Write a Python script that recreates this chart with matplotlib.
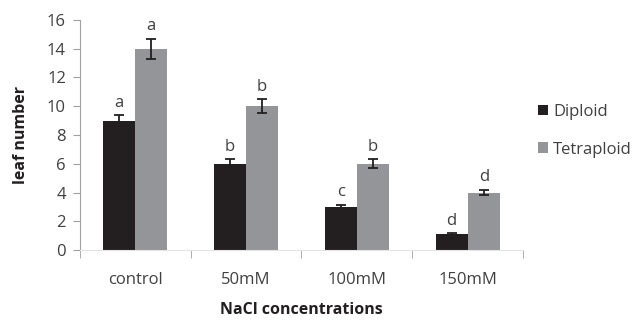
import matplotlib.pyplot as plt
import numpy as np

plt.rcParams['font.family'] = ['Open Sans', 'DejaVu Sans']

# Data
categories = ['control', '50mM', '100mM', '150mM']
diploid = [9.0, 6.0, 3.0, 1.1]
diploid_err = [0.4, 0.3, 0.15, 0.05]
tetraploid = [14.0, 10.0, 6.0, 4.0]
tetraploid_err = [0.7, 0.5, 0.3, 0.2]
diploid_letters = ['a', 'b', 'c', 'd']
tetraploid_letters = ['a', 'b', 'b', 'd']

fig = plt.figure(figsize=(6.34, 3.26), dpi=100)
ax = fig.add_axes([0.126, 0.233, 0.699, 0.706])

x = np.arange(len(categories))
w = 0.29
ax.bar(x - w/2, diploid, w, color='#231f20', label='Diploid',
       yerr=diploid_err, capsize=3.5, error_kw=dict(ecolor='#231f20', elinewidth=1.3, capthick=1.3))
ax.bar(x + w/2, tetraploid, w, color='#939598', label='Tetraploid',
       yerr=tetraploid_err, capsize=3.5, error_kw=dict(ecolor='#231f20', elinewidth=1.3, capthick=1.3))

# significance letters
for i in range(len(categories)):
    ax.text(x[i] - w/2, diploid[i] + diploid_err[i] + 0.3, diploid_letters[i],
            ha='center', va='bottom', fontsize=12, color='#404040')
    ax.text(x[i] + w/2, tetraploid[i] + tetraploid_err[i] + 0.3, tetraploid_letters[i],
            ha='center', va='bottom', fontsize=12, color='#404040')

ax.set_xlim(-0.5, 3.5)
ax.set_ylim(0, 16)
ax.set_yticks(range(0, 17, 2))
ax.set_xticks(x)
ax.set_xticklabels(categories)
ax.set_xticks(np.arange(-0.5, 4, 1), minor=True)
ax.tick_params(axis='x', which='major', length=0, pad=16, labelsize=12, labelcolor='#404040')
ax.tick_params(axis='x', which='minor', length=6, color='#a0a0a0', direction='out')
ax.tick_params(axis='y', length=5, color='#a0a0a0', labelsize=12, labelcolor='#404040', pad=5)

for s in ['top', 'right']:
    ax.spines[s].set_visible(False)
ax.spines['left'].set_color('#a0a0a0')
ax.spines['bottom'].set_color('#e4e4e4')

ax.set_ylabel('leaf number', fontsize=11.5, fontweight='bold', color='#231f20', labelpad=13)
ax.set_xlabel('NaCl concentrations', fontsize=11.5, fontweight='bold', color='#231f20', labelpad=10)

ax.legend(loc='upper left', bbox_to_anchor=(1.0, 0.70), frameon=False, fontsize=12,
          handlelength=0.6, handleheight=0.6, handletextpad=0.3, labelspacing=1.3,
          labelcolor='#404040')

fig.savefig('out.png', dpi=100)
